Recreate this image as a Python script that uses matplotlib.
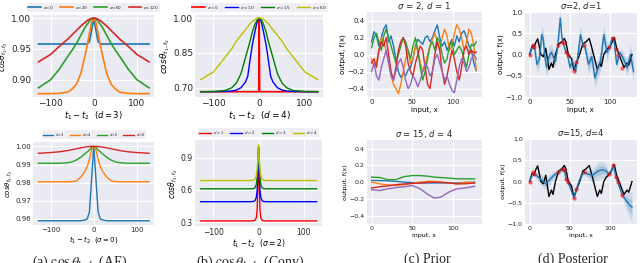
import numpy as np
import matplotlib
matplotlib.use('Agg')
from matplotlib import pyplot as plt

plt.rcParams['mathtext.fontset'] = 'dejavusans'
plt.rcParams['axes.facecolor'] = '#EAEAF2'
plt.rcParams['axes.edgecolor'] = 'white'
plt.rcParams['grid.color'] = 'white'
plt.rcParams['text.color'] = '#262626'
plt.rcParams['xtick.color'] = '#262626'
plt.rcParams['ytick.color'] = '#262626'

# ---------- (a) AE, top: d = 3, varying sigma ----------
xa = [-128, -100, -80, -60, -50, -40, -30, -20, -15, -10, -5, 0,
      5, 10, 15, 20, 30, 40, 50, 60, 80, 100, 128]
a_top_labels = [r'$\sigma$=0', r'$\sigma$=20', r'$\sigma$=60', r'$\sigma$=120']
a_top = [
    [0.958, 0.958, 0.958, 0.958, 0.958, 0.958, 0.958, 0.958, 0.958, 0.962, 0.980, 1.000,
     0.980, 0.962, 0.958, 0.958, 0.958, 0.958, 0.958, 0.958, 0.958, 0.958, 0.958],
    [0.8775, 0.8775, 0.878, 0.880, 0.885, 0.893, 0.910, 0.940, 0.957, 0.975, 0.993, 1.000,
     0.993, 0.975, 0.957, 0.940, 0.910, 0.893, 0.885, 0.880, 0.878, 0.8775, 0.8775],
    [0.887, 0.900, 0.917, 0.938, 0.948, 0.959, 0.972, 0.985, 0.990, 0.995, 0.999, 1.000,
     0.999, 0.995, 0.990, 0.985, 0.972, 0.959, 0.948, 0.938, 0.917, 0.900, 0.887],
    [0.929, 0.941, 0.954, 0.966, 0.973, 0.980, 0.987, 0.993, 0.996, 0.998, 0.9995, 1.000,
     0.9995, 0.998, 0.996, 0.993, 0.987, 0.980, 0.973, 0.966, 0.954, 0.941, 0.929],
]

# ---------- (a) AE, bottom: sigma = 0, varying d ----------
a_bot_labels = [r'$d$=3', r'$d$=4', r'$d$=5', r'$d$=6']
a_bot = [
    [0.959, 0.959, 0.959, 0.959, 0.959, 0.959, 0.959, 0.9595, 0.960, 0.964, 0.982, 1.000,
     0.982, 0.964, 0.960, 0.9595, 0.959, 0.959, 0.959, 0.959, 0.959, 0.959, 0.959],
    [0.9805, 0.9805, 0.9805, 0.9805, 0.9806, 0.981, 0.983, 0.9865, 0.989, 0.993, 0.998, 1.000,
     0.998, 0.993, 0.989, 0.9865, 0.983, 0.981, 0.9806, 0.9805, 0.9805, 0.9805, 0.9805],
    [0.9907, 0.9907, 0.9907, 0.991, 0.9915, 0.9925, 0.994, 0.996, 0.997, 0.998, 0.9995, 1.000,
     0.9995, 0.998, 0.997, 0.996, 0.994, 0.9925, 0.9915, 0.991, 0.9907, 0.9907, 0.9907],
    [0.9962, 0.9966, 0.997, 0.9977, 0.9982, 0.9987, 0.9992, 0.9996, 0.9998, 0.9999, 1.000, 1.000,
     1.000, 0.9999, 0.9998, 0.9996, 0.9992, 0.9987, 0.9982, 0.9977, 0.997, 0.9966, 0.9962],
]

# ---------- (b) Conv, top: d = 4, varying sigma ----------
xb = [-128, -100, -75, -60, -50, -40, -30, -25, -20, -15, -10, -5, -2, 0,
      2, 5, 10, 15, 20, 25, 30, 40, 50, 60, 75, 100, 128]
b_top_labels = [r'$\sigma=0$', r'$\sigma=10$', r'$\sigma=15$', r'$\sigma=60$']
xb_spike = [-128, -1, 0, 1, 128]
b_top_s0 = [0.683, 0.683, 1.0, 0.683, 0.683]
b_top = [
    [0.683, 0.683, 0.684, 0.686, 0.690, 0.700, 0.725, 0.750, 0.820, 0.885, 0.935, 0.980, 0.997, 1.000,
     0.997, 0.980, 0.935, 0.885, 0.820, 0.750, 0.725, 0.700, 0.690, 0.686, 0.684, 0.683, 0.683],
    [0.683, 0.684, 0.688, 0.700, 0.720, 0.760, 0.830, 0.865, 0.900, 0.940, 0.970, 0.990, 0.998, 1.000,
     0.998, 0.990, 0.970, 0.940, 0.900, 0.865, 0.830, 0.760, 0.720, 0.700, 0.688, 0.684, 0.683],
    [0.735, 0.768, 0.830, 0.868, 0.900, 0.925, 0.950, 0.962, 0.975, 0.985, 0.993, 0.998, 1.000, 1.000,
     1.000, 0.998, 0.993, 0.985, 0.975, 0.962, 0.950, 0.925, 0.900, 0.868, 0.830, 0.768, 0.735],
]

# ---------- (b) Conv, bottom: sigma = 2, varying d ----------
xbb = [-128, -20, -12, -8, -5, -3, -1, 0, 1, 3, 5, 8, 12, 20, 128]
b_bot_labels = [r'$d=1$', r'$d=2$', r'$d=3$', r'$d=4$']
b_bot = [
    [0.312, 0.312, 0.313, 0.318, 0.340, 0.420, 0.750, 0.950, 0.750, 0.420, 0.340, 0.318, 0.313, 0.312, 0.312],
    [0.491, 0.491, 0.492, 0.500, 0.530, 0.600, 0.850, 0.990, 0.850, 0.600, 0.530, 0.500, 0.492, 0.491, 0.491],
    [0.611, 0.611, 0.612, 0.620, 0.650, 0.720, 0.900, 1.000, 0.900, 0.720, 0.650, 0.620, 0.612, 0.611, 0.611],
    [0.688, 0.688, 0.690, 0.700, 0.730, 0.800, 0.930, 1.020, 0.930, 0.800, 0.730, 0.700, 0.690, 0.688, 0.688],
]

# ---------- (c) Prior samples ----------
xc = list(range(0, 130, 3))
prior_s2 = [
    [0.15, 0.27, 0.22, 0.10, 0.20, 0.30, 0.35, 0.15, 0.22, 0.10, -0.05, -0.20, -0.27, -0.22, -0.25,
     -0.18, -0.15, -0.05, 0.10, 0.18, 0.15, 0.12, 0.20, 0.22, 0.15, 0.20, 0.28, 0.35, 0.20, 0.10,
     0.15, 0.05, 0.12, 0.18, 0.10, 0.22, 0.15, 0.25, 0.28, 0.20, 0.10, 0.05, -0.10, -0.19],
    [-0.05, -0.15, -0.10, 0.05, 0.20, 0.15, 0.05, -0.10, -0.25, -0.35, -0.40, -0.46, -0.35, -0.20, -0.05,
     0.05, -0.10, -0.05, 0.10, 0.05, -0.10, -0.20, -0.15, 0.00, 0.10, 0.18, 0.25, 0.15, 0.05, 0.20,
     0.30, 0.22, 0.05, 0.10, 0.25, 0.35, 0.30, 0.20, 0.05, 0.15, 0.30, 0.25, 0.10, -0.18],
    [0.08, 0.20, 0.25, 0.15, 0.05, 0.22, 0.30, 0.20, 0.10, 0.00, -0.10, 0.00, 0.10, 0.20, 0.15,
     0.05, -0.05, 0.10, 0.20, 0.05, -0.15, -0.30, -0.20, -0.05, 0.10, 0.15, 0.05, 0.20, 0.15, 0.00,
     -0.10, -0.05, 0.10, 0.15, 0.00, 0.05, 0.10, 0.05, -0.05, -0.15, 0.00, 0.12, 0.10, 0.15],
    [-0.10, -0.05, -0.15, 0.05, 0.15, 0.10, 0.20, 0.00, -0.20, -0.30, -0.15, 0.05, 0.15, 0.20, 0.10,
     -0.10, -0.20, -0.25, -0.10, 0.00, 0.10, 0.05, -0.15, -0.35, -0.40, -0.20, 0.00, 0.15, 0.05, -0.20,
     -0.35, -0.25, -0.10, 0.05, -0.05, -0.20, -0.30, -0.15, 0.05, 0.10, 0.00, 0.05, 0.02, 0.03],
    [-0.20, -0.10, -0.25, -0.30, -0.15, -0.05, 0.05, -0.10, -0.25, -0.30, -0.20, -0.10, -0.05, -0.15, -0.30,
     -0.40, -0.35, -0.25, -0.30, -0.38, -0.30, -0.20, -0.10, -0.15, -0.25, -0.20, -0.05, 0.00, -0.10, -0.20,
     -0.30, -0.25, -0.35, -0.42, -0.45, -0.30, -0.15, -0.05, -0.10, -0.20, -0.15, -0.05, 0.00, -0.05],
]
xc_smooth = [0, 10, 20, 30, 40, 50, 60, 70, 77, 85, 95, 105, 115, 127]
prior_s15 = [
    [0.020, 0.018, 0.015, 0.008, 0.000, -0.005, -0.010, -0.010, -0.010, -0.010, -0.010, -0.010, -0.005, 0.000],
    [0.000, -0.020, -0.035, -0.040, -0.030, -0.015, 0.000, 0.010, 0.008, 0.000, -0.010, -0.020, 0.000, -0.010],
    [0.060, 0.055, 0.030, 0.030, 0.065, 0.078, 0.078, 0.070, 0.060, 0.055, 0.048, 0.040, 0.040, 0.038],
    [-0.070, -0.055, -0.045, -0.030, -0.022, -0.015, -0.010, -0.002, 0.000, 0.000, -0.010, -0.020, -0.020, -0.010],
    [-0.090, -0.100, -0.080, -0.065, -0.055, -0.040, -0.080, -0.150, -0.190, -0.180, -0.120, -0.080, -0.070, -0.050],
]

# ---------- (d) Posterior ----------
x_true = [0, 3, 5, 8, 10, 14, 17, 20, 24, 27, 29, 32, 36, 40, 43, 45, 48, 52, 55, 58, 62, 66,
          70, 74, 78, 80, 84, 87, 89, 92, 95, 100, 105, 108, 112, 117, 121, 123, 127]
f_true = [0.00, 0.20, 0.15, 0.30, 0.37, 0.00, -0.05, 0.15, -0.35, -0.20, -0.30, 0.00, 0.25, 0.30, 0.38,
          0.30, 0.00, -0.10, -0.37, -0.20, 0.00, 0.25, 0.30, 0.38, 0.10, -0.05, -0.35, -0.20, -0.28,
          0.00, 0.10, 0.20, 0.40, 0.15, -0.05, -0.30, -0.20, -0.25, 0.00]
x_obs = [0, 4, 6, 35, 40, 43, 45, 47, 55, 58, 67, 98, 104, 107, 110, 115]
y_obs = [0.00, 0.22, 0.18, 0.22, 0.30, 0.28, 0.06, 0.00, -0.38, -0.18, 0.23, 0.18, 0.38, 0.12, -0.02, -0.32]

x_post2 = [0, 4, 6, 9, 12, 15, 17, 19, 21, 24, 27, 32, 35, 38, 40, 42, 45, 47, 50, 53, 57, 60, 63,
           66, 69, 73, 77, 81, 85, 88, 92, 96, 100, 102, 105, 108, 112, 116, 121, 125, 129]
m_post2 = [0.00, 0.22, 0.18, -0.23, -0.10, 0.47, 0.35, -0.08, -0.30, -0.05, 0.05, -0.16, 0.22, 0.86,
           0.40, 0.25, 0.06, 0.00, -0.30, -0.15, -0.40, 0.00, 0.47, 0.23, 0.15, -0.23, -0.05, -0.55,
           -0.30, -0.15, 0.47, 0.05, 0.20, 0.39, 0.30, -0.23, 0.05, -0.08, -0.31, 0.00, -0.40]
s_post2 = [0.02, 0.03, 0.03, 0.10, 0.10, 0.12, 0.10, 0.10, 0.12, 0.12, 0.10, 0.08, 0.03, 0.10, 0.04,
           0.04, 0.03, 0.03, 0.08, 0.08, 0.03, 0.08, 0.12, 0.03, 0.08, 0.12, 0.12, 0.12, 0.12, 0.12,
           0.12, 0.12, 0.04, 0.04, 0.04, 0.06, 0.04, 0.08, 0.10, 0.12, 0.14]

x_post15 = [0, 4, 6, 10, 15, 20, 25, 30, 35, 40, 43, 45, 47, 50, 55, 58, 62, 67, 72, 78, 85, 90,
            95, 98, 101, 104, 107, 110, 115, 120, 124, 127]
m_post15 = [0.00, 0.20, 0.18, 0.12, 0.03, -0.05, 0.05, 0.15, 0.22, 0.28, 0.28, 0.08, 0.00, -0.12,
            -0.38, -0.18, 0.05, 0.23, 0.18, 0.15, 0.25, 0.28, 0.25, 0.18, 0.25, 0.38, 0.12, -0.05,
            -0.32, -0.45, -0.55, -0.60]
s_post15 = [0.02, 0.03, 0.03, 0.05, 0.07, 0.07, 0.06, 0.05, 0.03, 0.03, 0.03, 0.03, 0.03, 0.05,
            0.03, 0.03, 0.04, 0.03, 0.05, 0.08, 0.10, 0.10, 0.08, 0.03, 0.04, 0.03, 0.03, 0.04,
            0.04, 0.10, 0.15, 0.18]

tab = ['tab:blue', 'tab:orange', 'tab:green', 'tab:red', 'tab:purple']

fig = plt.figure(figsize=(6.4, 2.63), dpi=100)


def style(ax, fs):
    ax.grid(True, color='white', linewidth=0.8)
    ax.set_axisbelow(True)
    for s in ax.spines.values():
        s.set_visible(False)
    ax.tick_params(length=0, labelsize=fs, pad=1.5)


def top_legend(ax, fs):
    ax.legend(loc='lower center', bbox_to_anchor=(0.5, 1.01), ncol=4, fontsize=fs,
              frameon=True, facecolor='#EAEAF2', edgecolor='none', handlelength=3,
              columnspacing=1.6, borderpad=0.3, handletextpad=0.5)


# (a) top
ax = fig.add_axes([0.052, 0.631, 0.189, 0.312])
for y, lab, c in zip(a_top, a_top_labels, tab):
    ax.plot(xa, y, color=c, lw=1.2, label=lab)
ax.set_xlim(-140, 140)
ax.set_ylim(0.872, 1.005)
ax.set_xticks([-100, 0, 100])
ax.set_yticks([0.90, 0.95, 1.00])
ax.set_ylabel(r'$cos\theta_{t_1,t_2}$', fontsize=5.5, labelpad=0.5)
ax.set_xlabel(r'$t_1 - t_2$  ($d=3$)', fontsize=6, labelpad=1)
style(ax, 6.5)
top_legend(ax, 3)

# (a) bottom
ax = fig.add_axes([0.052, 0.144, 0.189, 0.316])
for y, lab, c in zip(a_bot, a_bot_labels, tab):
    ax.plot(xa, y, color=c, lw=1.0, label=lab)
ax.set_xlim(-140, 140)
ax.set_ylim(0.9566, 1.0024)
ax.set_xticks([-100, 0, 100])
ax.set_yticks([0.96, 0.97, 0.98, 0.99, 1.00])
ax.set_ylabel(r'$cos\theta_{t_1,t_2}$', fontsize=5, labelpad=0.5)
ax.set_xlabel(r'$t_1 - t_2$  ($\sigma=0$)', fontsize=5, labelpad=0.5)
style(ax, 5)
top_legend(ax, 2.5)

# (b) top
ax = fig.add_axes([0.305, 0.631, 0.200, 0.312])
ax.plot(xb_spike, b_top_s0, color='r', lw=1.2, label=b_top_labels[0])
for y, lab, c in zip(b_top, b_top_labels[1:], ['b', 'g', 'y']):
    ax.plot(xb, y, color=c, lw=1.0, label=lab)
ax.set_xlim(-140, 140)
ax.set_ylim(0.66, 1.013)
ax.set_xticks([-100, 0, 100])
ax.set_yticks([0.70, 0.85, 1.00])
ax.set_ylabel(r'$cos\theta_{t_1,t_2}$', fontsize=6.5, labelpad=1)
ax.set_xlabel(r'$t_1 - t_2$  ($d=4$)', fontsize=6.5, labelpad=1)
style(ax, 6.5)
top_legend(ax, 3)

# (b) bottom
ax = fig.add_axes([0.305, 0.140, 0.198, 0.328])
for y, lab, c in zip(b_bot, b_bot_labels, ['r', 'b', 'g', 'y']):
    ax.plot(xbb, y, color=c, lw=1.0, label=lab)
ax.set_xlim(-140, 140)
ax.set_ylim(0.263, 1.066)
ax.set_xticks([-100, 0, 100])
ax.set_yticks([0.3, 0.6, 0.9])
ax.set_ylabel(r'$cos\theta_{t_1,t_2}$', fontsize=5.5, labelpad=1)
ax.set_xlabel(r'$t_1 - t_2$  ($\sigma=2$)', fontsize=5.5, labelpad=0.5)
style(ax, 5.5)
top_legend(ax, 2.8)

# (c) top
ax = fig.add_axes([0.573, 0.631, 0.180, 0.323])
for y, c in zip(prior_s2, tab):
    ax.plot(xc, y, color=c, lw=1.0)
ax.set_xlim(-6, 136)
ax.set_ylim(-0.5, 0.5)
ax.set_yticks([-0.4, -0.2, 0.0, 0.2, 0.4])
ax.set_xticks([0, 50, 100])
ax.set_title(r'$\sigma$ = 2, $d$ = 1', fontsize=6.2, pad=1.5)
ax.set_ylabel('output, f(x)', fontsize=5, labelpad=1)
ax.set_xlabel('input, x', fontsize=5, labelpad=1)
style(ax, 5)

# (c) bottom
ax = fig.add_axes([0.573, 0.148, 0.180, 0.319])
for y, c in zip(prior_s15, tab):
    ax.plot(xc_smooth, y, color=c, lw=1.0)
ax.set_xlim(-6, 136)
ax.set_ylim(-0.5, 0.5)
ax.set_yticks([-0.4, -0.2, 0.0, 0.2, 0.4])
ax.set_xticks([0, 50, 100])
ax.set_title(r'$\sigma$ = 15, $d$ = 4', fontsize=6, pad=1.5)
ax.set_ylabel('output, f(x)', fontsize=4.5, labelpad=1)
ax.set_xlabel('input, x', fontsize=4.5, labelpad=1)
style(ax, 4.5)


def posterior(ax, xm, m, s):
    m = np.array(m)
    s = np.array(s)
    ax.fill_between(xm, m - 2 * s, m + 2 * s, color='tab:blue', alpha=0.15, lw=0)
    ax.fill_between(xm, m - s, m + s, color='tab:blue', alpha=0.2, lw=0)
    ax.plot(x_true, f_true, color='black', lw=1.0)
    ax.plot(xm, m, color='tab:blue', lw=1.0)
    ax.plot(x_obs, y_obs, 'o', color='red', alpha=0.6, ms=3, mew=0)
    ax.set_xlim(-6, 133)
    ax.set_ylim(-1.0, 1.0)
    ax.set_yticks([-1.0, -0.5, 0.0, 0.5, 1.0])
    ax.set_xticks([0, 50, 100])


# (d) top
ax = fig.add_axes([0.820, 0.631, 0.175, 0.323])
posterior(ax, x_post2, m_post2, s_post2)
ax.set_title(r'$\sigma$=2, $d$=1', fontsize=6, pad=1.5)
ax.set_ylabel('output, f(x)', fontsize=5, labelpad=1)
ax.set_xlabel('input, x', fontsize=5, labelpad=1)
style(ax, 5)

# (d) bottom
ax = fig.add_axes([0.820, 0.148, 0.175, 0.323])
posterior(ax, x_post15, m_post15, s_post15)
ax.set_title(r'$\sigma$=15, $d$=4', fontsize=6, pad=1.5)
ax.set_ylabel('output, f(x)', fontsize=4.5, labelpad=1)
ax.set_xlabel('input, x', fontsize=4.5, labelpad=1)
style(ax, 4.5)

# captions
captions = [(0.125, r'(a) $\cos\theta_{t_1,t_2}$ (AE)'),
            (0.39, r'(b) $\cos\theta_{t_1,t_2}$ (Conv)'),
            (0.668, '(c) Prior'),
            (0.895, '(d) Posterior')]
for xpos, txt in captions:
    fig.text(xpos, 1 - 253 / 263, txt, ha='center', va='top', fontsize=10,
             family='Liberation Serif', math_fontfamily='stix')

fig.savefig('out.png', dpi=100)
